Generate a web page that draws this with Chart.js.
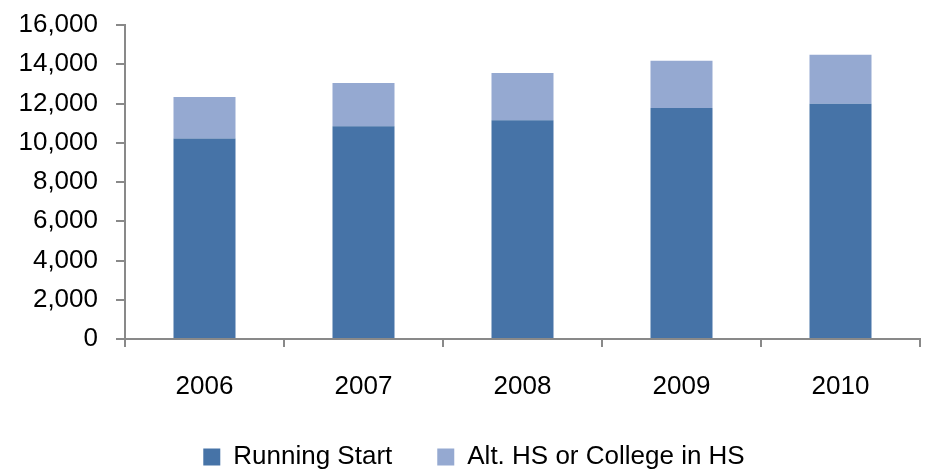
<!DOCTYPE html>
<html>
<head>
<meta charset="utf-8">
<script src="https://cdn.jsdelivr.net/npm/chart.js@4/dist/chart.umd.min.js"></script>
<style>
html,body{margin:0;padding:0;background:#fff;}
#wrap{width:928px;height:472px;}
</style>
</head>
<body>
<div id="wrap"><canvas id="c" width="928" height="472"></canvas></div>
<script>
const categories = ['2006', '2007', '2008', '2009', '2010'];
const runningStart = [10220, 10840, 11150, 11770, 11990];
const altHS = [2110, 2200, 2410, 2410, 2490];
const yTicks = [0, 2000, 4000, 6000, 8000, 10000, 12000, 14000, 16000];

const FONT = "'Liberation Sans',Arial,sans-serif";
const axisColor = '#898989';

const legendShift = {
  id: 'legendShift',
  afterLayout(chart) {
    if (chart.legend) { chart.legend.left += 14; chart.legend.right += 14; }
  }
};

new Chart(document.getElementById('c'), {
  type: 'bar',
  data: {
    labels: categories,
    datasets: [
      { label: 'Running Start', data: runningStart, backgroundColor: '#4673A7', borderWidth: 0 },
      { label: 'Alt. HS or College in HS', data: altHS, backgroundColor: '#95A9D1', borderWidth: 0 }
    ]
  },
  plugins: [legendShift],
  options: {
    responsive: false,
    animation: false,
    devicePixelRatio: 1,
    layout: { padding: { left: 0, right: 8, top: 25, bottom: -8 } },
    datasets: { bar: { categoryPercentage: 1.0, barPercentage: 0.39 } },
    plugins: {
      tooltip: { enabled: false },
      legend: {
        position: 'bottom',
        labels: {
          font: { family: FONT, size: 26 },
          color: '#000',
          boxWidth: 17,
          boxHeight: 17,
          padding: 45
        }
      }
    },
    scales: {
      x: {
        stacked: true,
        border: { display: true, color: axisColor, width: 2 },
        grid: { display: true, drawOnChartArea: false, drawTicks: true, tickLength: 8, color: axisColor, lineWidth: 2, offset: true },
        ticks: { font: { family: FONT, size: 26 }, color: '#000', padding: 24 },
        afterFit: s => { s.height = 60; s.paddingLeft = 0; s.paddingRight = 0; }
      },
      y: {
        stacked: true,
        min: 0, max: 16000,
        border: { display: true, color: axisColor, width: 2 },
        grid: { display: true, drawOnChartArea: false, drawTicks: true, tickLength: 9, color: axisColor, lineWidth: 2 },
        afterBuildTicks: s => { s.ticks = yTicks.map(v => ({ value: v })); },
        ticks: {
          autoSkip: false,
          font: { family: FONT, size: 26 },
          color: '#000',
          padding: 18,
          callback: v => v.toLocaleString('en-US')
        },
        afterFit: s => { s.width = 125; s.paddingTop = 0; s.paddingBottom = 0; }
      }
    }
  }
});
</script>
</body>
</html>
